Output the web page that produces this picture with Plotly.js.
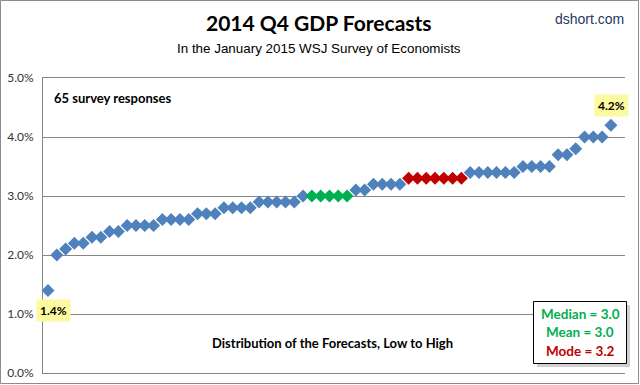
<!DOCTYPE html>
<html>
<head>
<meta charset="utf-8">
<script src="https://cdn.plot.ly/plotly-3.0.1.min.js"></script>
<style>
html,body{margin:0;padding:0;background:#fff;}
#chart{width:640px;height:385px;}
</style>
</head>
<body>
<div id="chart"></div>
<script>
// Forecast values (%), sorted low to high
const forecasts = [
  1.4, 2.0, 2.1, 2.2, 2.2, 2.3, 2.3, 2.4, 2.4, 2.5,
  2.5, 2.5, 2.5, 2.6, 2.6, 2.6, 2.6, 2.7, 2.7, 2.7,
  2.8, 2.8, 2.8, 2.8, 2.9, 2.9, 2.9, 2.9, 2.9, 3.0,
  3.0, 3.0, 3.0, 3.0, 3.0, 3.1, 3.1, 3.2, 3.2, 3.2,
  3.2, 3.3, 3.3, 3.3, 3.3, 3.3, 3.3, 3.3, 3.4, 3.4,
  3.4, 3.4, 3.4, 3.4, 3.5, 3.5, 3.5, 3.5, 3.7, 3.7,
  3.8, 4.0, 4.0, 4.0, 4.2
];
// highlight group per point: '' normal, 'mid' = median/mean, 'mode'
const groups = [
  '', '', '', '', '', '', '', '', '', '',
  '', '', '', '', '', '', '', '', '', '',
  '', '', '', '', '', '', '', '', '', '',
  'mid', 'mid', 'mid', 'mid', 'mid', '', '', '', '', '',
  '', 'mode', 'mode', 'mode', 'mode', 'mode', 'mode', 'mode', '', '',
  '', '', '', '', '', '', '', '', '', '',
  '', '', '', '', ''
];
const yTicks = [0, 1, 2, 3, 4, 5];
const yTickLabels = ['0.0%', '1.0%', '2.0%', '3.0%', '4.0%', '5.0%'];
const stats = {median: '3.0', mean: '3.0', mode: '3.2'};

const BLUE = '#4f81bd', GREEN = '#00b050', RED = '#c00000';
const ranks = forecasts.map((v, i) => i + 1);
const colors = groups.map(g => g === 'mid' ? GREEN : (g === 'mode' ? RED : BLUE));

// pixel helpers for paper coordinates
const L = 43, R = 15, T = 78, B = 12, W = 640, H = 385;
const PW = W - L - R, PH = H - T - B;
const px = x => (x - L) / PW;
const py = y => (H - B - y) / PH;

const trace = {
  type: 'scatter', mode: 'markers',
  x: ranks, y: forecasts,
  marker: {symbol: 'diamond', size: 10, color: colors, line: {width: 0}},
  hoverinfo: 'skip', cliponaxis: false
};

const font = 'Lato, "Open Sans", sans-serif';
const narrow = '"Liberation Sans Narrow", "Liberation Sans", Arial, sans-serif';

const layout = {
  width: W, height: H,
  margin: {l: L, r: R, t: T, b: B, pad: 0},
  paper_bgcolor: '#ffffff', plot_bgcolor: '#ffffff',
  showlegend: false,
  font: {family: font, size: 12, color: '#000'},
  xaxis: {
    range: [0.43, 66.6], showgrid: false, zeroline: false,
    showticklabels: false, ticks: '',
    showline: true, mirror: true, linecolor: '#868686', linewidth: 1,
    fixedrange: true
  },
  yaxis: {
    range: [0, 5], tickvals: yTicks, ticktext: yTickLabels,
    showgrid: true, gridcolor: '#868686', gridwidth: 1,
    zeroline: false, showline: true, linecolor: '#868686', linewidth: 1,
    ticks: '', ticklabelstandoff: 6,
    tickfont: {family: font, size: 12, color: '#333333'},
    fixedrange: true
  },
  shapes: [
    // outer chart border
    {type: 'rect', xref: 'paper', yref: 'paper',
     x0: px(0.5), x1: px(638.5), y0: py(383.5), y1: py(0.5),
     line: {color: '#8c8c8c', width: 1}, fillcolor: 'rgba(0,0,0,0)'},
    // stats box shadow
    {type: 'rect', xref: 'paper', yref: 'paper',
     x0: px(537), x1: px(630), y0: py(367), y1: py(305),
     line: {width: 0}, fillcolor: 'rgba(120,120,120,0.35)'},
    // stats box
    {type: 'rect', xref: 'paper', yref: 'paper',
     x0: px(533.5), x1: px(626.5), y0: py(363.5), y1: py(301.5),
     line: {color: '#000', width: 1}, fillcolor: '#ffffff'}
  ],
  annotations: [
    {text: '<b>2014 Q4 GDP Forecasts</b>', xref: 'paper', yref: 'paper',
     x: px(319), y: py(22), showarrow: false, xanchor: 'center', yanchor: 'middle',
     font: {family: font, size: 21, color: '#000'}},
    {text: 'In the January 2015 WSJ Survey of Economists', xref: 'paper', yref: 'paper',
     x: px(319), y: py(48), showarrow: false, xanchor: 'center', yanchor: 'middle',
     font: {family: narrow, size: 13.4, color: '#000'}},
    {text: 'dshort.com', xref: 'paper', yref: 'paper',
     x: px(626), y: py(19), showarrow: false, xanchor: 'right', yanchor: 'middle',
     font: {family: narrow, size: 14, color: '#1f3864'}},
    {text: '<b>65 survey responses</b>', xref: 'paper', yref: 'paper',
     x: px(52), y: py(98), showarrow: false, xanchor: 'left', yanchor: 'middle',
     font: {family: font, size: 13, color: '#000'}},
    {text: '<b>Distribution of the Forecasts, Low to High</b>', xref: 'paper', yref: 'paper',
     x: px(332), y: py(343), showarrow: false, xanchor: 'center', yanchor: 'middle',
     font: {family: font, size: 13, color: '#000'}},
    {text: '<b>' + forecasts[0].toFixed(1) + '%</b>', x: ranks[0], y: forecasts[0],
     xshift: 5, yshift: -20, showarrow: false, bgcolor: '#fdf99e', borderpad: 3,
     font: {family: font, size: 12, color: '#000'}},
    {text: '<b>' + forecasts[forecasts.length - 1].toFixed(1) + '%</b>',
     x: ranks[ranks.length - 1], y: forecasts[forecasts.length - 1],
     xshift: 1, yshift: 20, showarrow: false, bgcolor: '#fdf99e', borderpad: 3,
     font: {family: font, size: 12, color: '#000'}},
    {text: '<b>Median = ' + stats.median + '</b>', xref: 'paper', yref: 'paper',
     x: px(580), y: py(314), showarrow: false, xanchor: 'center', yanchor: 'middle',
     font: {family: font, size: 13.5, color: GREEN}},
    {text: '<b>Mean = ' + stats.mean + '</b>', xref: 'paper', yref: 'paper',
     x: px(580), y: py(332), showarrow: false, xanchor: 'center', yanchor: 'middle',
     font: {family: font, size: 13.5, color: GREEN}},
    {text: '<b>Mode = ' + stats.mode + '</b>', xref: 'paper', yref: 'paper',
     x: px(580), y: py(351), showarrow: false, xanchor: 'center', yanchor: 'middle',
     font: {family: font, size: 13.5, color: RED}}
  ]
};

Plotly.newPlot('chart', [trace], layout, {displayModeBar: false, staticPlot: true});
</script>
</body>
</html>
